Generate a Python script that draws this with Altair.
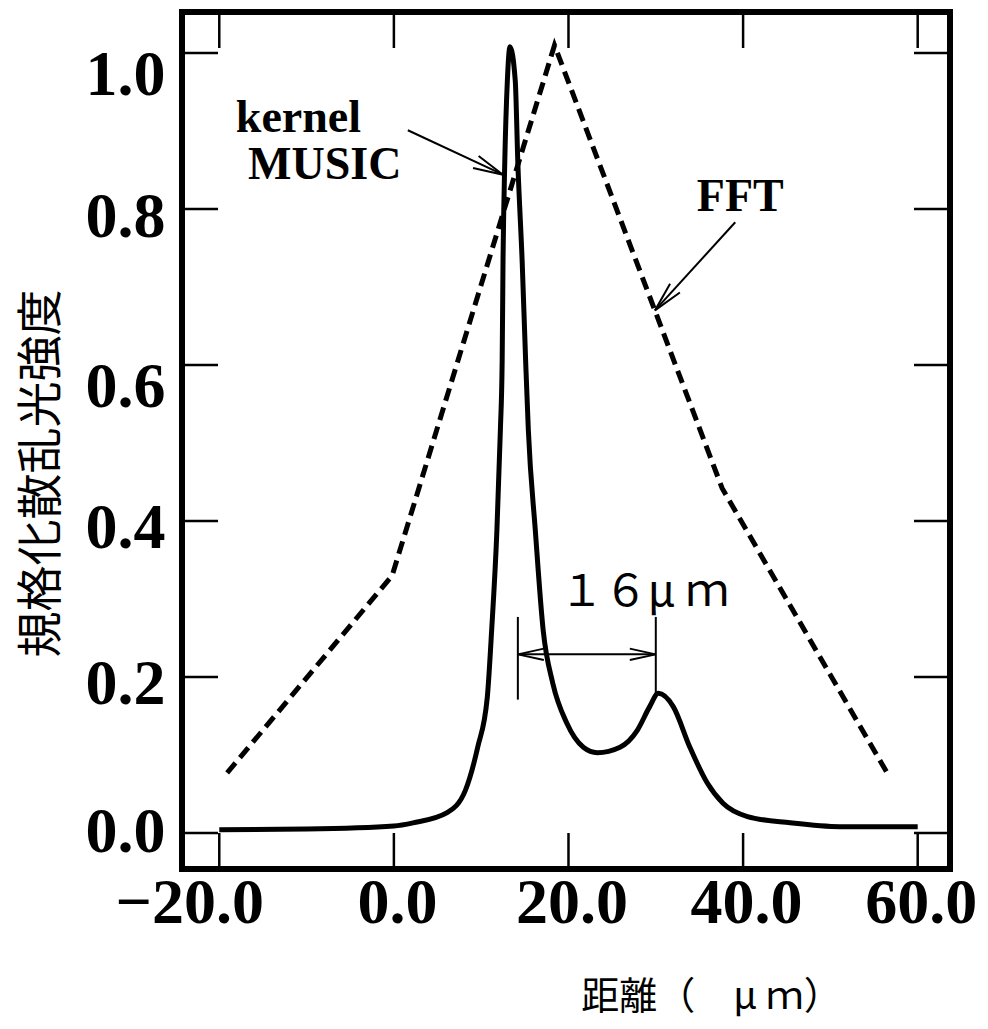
import altair as alt
import pandas as pd

# ---- data ----
music_x = [-20.0, -10.0, 0.0, 2.2, 6.1, 8.2, 9.6, 10.7, 11.2, 11.8, 12.2, 12.4, 12.5, 12.7,
           13.0, 13.3, 13.9, 14.2, 14.7, 15.1, 15.4, 16.2, 17.1, 18.2, 19.8, 21.7, 23.3,
           25.9, 27.9, 29.3, 30.3, 32.0, 33.9, 35.9, 37.7, 40.5, 45.4, 51.1, 60.0]
music_y = [0.004, 0.005, 0.009, 0.013, 0.026, 0.055, 0.110, 0.174, 0.260, 0.388, 0.517, 0.603,
           0.731, 0.859, 0.965, 1.008, 0.965, 0.859, 0.731, 0.603, 0.517, 0.388, 0.260, 0.192,
           0.141, 0.110, 0.103, 0.110, 0.132, 0.162, 0.179, 0.162, 0.110, 0.064, 0.038, 0.021,
           0.013, 0.008, 0.008]

fft_x = [-19.1, -0.2, 18.4, 37.6, 56.5]
fft_y = [0.077, 0.330, 1.010, 0.442, 0.077]

x_ticks = [-20, 0, 20, 40, 60]
y_ticks = [0.0, 0.2, 0.4, 0.6, 0.8, 1.0]

label_text = ["kernel", "MUSIC", "FFT"]
label_x = [-18.1, -16.7, 34.7]
label_y = [0.899, 0.838, 0.797]

dim_text = ["１６μ ｍ"]
dim_x = [28.7]
dim_y = [0.291]

# arrow / dimension line segments (data units)
seg_x = [1.6, 39.1, 14.2, 14.2, 30.0]
seg_x2 = [12.5, 29.9, 30.0, 14.2, 30.0]
seg_y = [0.901, 0.783, 0.229, 0.277, 0.277]
seg_y2 = [0.844, 0.670, 0.229, 0.171, 0.179]

# arrow tips (data units)
tip_x = [12.5, 29.9, 14.2, 30.0]
tip_y = [0.844, 0.670, 0.229, 0.229]

# ---- layout ----
W, H = 768, 857
TICK = 36
xs = alt.Scale(domain=[-24.27, 63.70], nice=False, zero=False)
ys = alt.Scale(domain=[-0.0462, 1.0526], nice=False, zero=False)

ax_x = alt.Axis(
    values=x_ticks, format=".1f", ticks=False, tickSize=0, domain=False, grid=False,
    labelFont="Liberation Serif", labelFontWeight="bold", labelFontSize=64,
    labelColor="black", labelPadding=2, labelFlush=False, labelOverlap=False,
    labelBound=False,
    labelOffset={"condition": {"test": "datum.value < -10", "value": -30}, "value": 3},
    title="距離（　μ ｍ）", titleFont="Noto Sans CJK JP", titleFontSize=38,
    titleFontWeight="normal", titleColor="black", titleX=529, titleY=128,
    titleAlign="center", titleBaseline="middle")
ax_y = alt.Axis(
    values=y_ticks, format=".1f", ticks=False, tickSize=0, domain=False, grid=False,
    labelFont="Liberation Serif", labelFontWeight="bold", labelFontSize=64,
    labelColor="black", labelPadding=17, labelFlush=False,
    labelOverlap=False, labelBound=False,
    labelOffset={"condition": [
        {"test": "datum.value > 0.9 || (datum.value > 0.5 && datum.value < 0.7)", "value": 22},
        {"test": "datum.value < 0.1", "value": 0}], "value": 8},
    title="規格化散乱光強度", titleFont="Noto Sans CJK JP", titleFontSize=46,
    titleFontWeight="normal", titleColor="black", titleAngle=270,
    titleX=-141, titleY=461, titleAlign="center", titleBaseline="middle")


def X(field):
    return alt.X(field, scale=xs, axis=ax_x)


def Y(field):
    return alt.Y(field, scale=ys, axis=ax_y)


music_df = pd.DataFrame({"x": music_x, "y": music_y})
fft_df = pd.DataFrame({"x": fft_x, "y": fft_y})

music = alt.Chart(music_df).mark_line(
    color="black", strokeWidth=5, interpolate="monotone"
).encode(x=X("x:Q"), y=Y("y:Q"))

fft = alt.Chart(fft_df).mark_line(
    color="black", strokeWidth=5, strokeDash=[13, 7]
).encode(x=X("x:Q"), y=Y("y:Q"))

xt = pd.DataFrame({"v": x_ticks})
yt = pd.DataFrame({"v": y_ticks})
tick_bottom = alt.Chart(xt).mark_rule(color="black", strokeWidth=2.5).encode(
    x=X("v:Q"), y=alt.value(H), y2=alt.value(H - TICK))
tick_top = alt.Chart(xt).mark_rule(color="black", strokeWidth=2.5).encode(
    x=X("v:Q"), y=alt.value(0), y2=alt.value(TICK))
tick_left = alt.Chart(yt).mark_rule(color="black", strokeWidth=2.5).encode(
    y=Y("v:Q"), x=alt.value(0), x2=alt.value(TICK))
tick_right = alt.Chart(yt).mark_rule(color="black", strokeWidth=2.5).encode(
    y=Y("v:Q"), x=alt.value(W), x2=alt.value(W - TICK))

seg_df = pd.DataFrame({"x": seg_x, "x2": seg_x2, "y": seg_y, "y2": seg_y2})
segs = alt.Chart(seg_df).mark_rule(color="black", strokeWidth=2).encode(
    x=X("x:Q"), x2="x2:Q", y=Y("y:Q"), y2="y2:Q")

ARROW = "M -1 -0.22 L 0 0 L -1 0.22"


def head(i, angle, size):
    d = pd.DataFrame({"x": [tip_x[i]], "y": [tip_y[i]]})
    return alt.Chart(d).mark_point(
        shape=ARROW, filled=False, stroke="black", strokeWidth=2, opacity=1,
        angle=angle, size=size
    ).encode(x=X("x:Q"), y=Y("y:Q"))


heads = [head(0, 25, 3600), head(1, 132, 3600), head(2, 180, 2700), head(3, 0, 2700)]

lab_df = pd.DataFrame({"x": label_x, "y": label_y, "t": label_text})
labels = alt.Chart(lab_df).mark_text(
    font="Liberation Serif", fontWeight="bold", fontSize=46, color="black",
    align="left", baseline="alphabetic"
).encode(x=X("x:Q"), y=Y("y:Q"), text="t:N")

dim_df = pd.DataFrame({"x": dim_x, "y": dim_y, "t": dim_text})
dim_label = alt.Chart(dim_df).mark_text(
    font="Noto Sans CJK JP", fontWeight="normal", fontSize=44, color="black",
    align="center", baseline="alphabetic"
).encode(x=X("x:Q"), y=Y("y:Q"), text="t:N")

chart = alt.layer(
    music, fft, tick_bottom, tick_top, tick_left, tick_right, segs, *heads, labels, dim_label
).properties(
    width=W, height=H,
    autosize=alt.AutoSizeParams(type="none"),
    padding={"left": 174, "top": 4, "right": 30, "bottom": 150},
    background="white",
).configure_view(stroke="black", strokeWidth=6)

chart.save("out.html", embed_options={"renderer": "svg", "actions": False})
